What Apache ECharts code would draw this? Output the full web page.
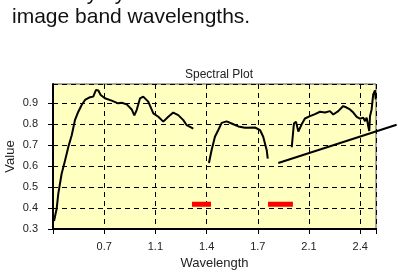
<!DOCTYPE html>
<html>
<head>
<meta charset="utf-8">
<script src="https://cdn.jsdelivr.net/npm/echarts@6/dist/echarts.min.js"></script>
<style>
  html, body { margin: 0; padding: 0; background: #fff; }
  #chart { width: 398px; height: 279px; }
</style>
</head>
<body>
<div id="chart"></div>
<script>
// spectrum pieces, [wavelength, value]; gaps are the water absorption bands
const seg1 = [
  [0.357, 0.338], [0.375, 0.396], [0.386, 0.467], [0.409, 0.563], [0.432, 0.625],
  [0.455, 0.691], [0.478, 0.746], [0.500, 0.818], [0.523, 0.858], [0.546, 0.890],
  [0.569, 0.914], [0.603, 0.927], [0.625, 0.930], [0.644, 0.962], [0.660, 0.959],
  [0.676, 0.938], [0.705, 0.922], [0.751, 0.911], [0.796, 0.898], [0.820, 0.901],
  [0.854, 0.893], [0.888, 0.869], [0.906, 0.841], [0.922, 0.866], [0.945, 0.922],
  [0.967, 0.930], [1.001, 0.906], [1.036, 0.850], [1.070, 0.834], [1.104, 0.811],
  [1.138, 0.834], [1.172, 0.854], [1.206, 0.842], [1.241, 0.818], [1.264, 0.794],
  [1.309, 0.778]
]
const seg2 = [
  [1.416, 0.614], [1.435, 0.678], [1.457, 0.739], [1.480, 0.771], [1.503, 0.805],
  [1.537, 0.812], [1.571, 0.802], [1.617, 0.788], [1.662, 0.782], [1.731, 0.783],
  [1.765, 0.771], [1.787, 0.739], [1.811, 0.675], [1.818, 0.635]
]
const seg3 = [
  [1.982, 0.689], [1.997, 0.802], [2.011, 0.811], [2.027, 0.764], [2.050, 0.798],
  [2.072, 0.826], [2.107, 0.837], [2.141, 0.847], [2.175, 0.858], [2.209, 0.854],
  [2.243, 0.861], [2.266, 0.845], [2.300, 0.861], [2.334, 0.885], [2.357, 0.878],
  [2.380, 0.869], [2.403, 0.854], [2.426, 0.834], [2.448, 0.825], [2.471, 0.830],
  [2.483, 0.813], [2.494, 0.830], [2.505, 0.789], [2.512, 0.766], [2.517, 0.837],
  [2.528, 0.869], [2.539, 0.941], [2.551, 0.960], [2.556, 0.917]
]
// red band markers
const band1 = [[1.300, 0.418], [1.430, 0.418]]
const band2 = [[1.820, 0.418], [1.990, 0.418]]
// pointer line running off the right side of the plot
const pointer = [[1.890, 0.614], [2.699, 0.796]]

const xLabels = ['0.7', '1.1', '1.4', '1.7', '2.1', '2.4']
const xStep = 0.35

let chart = echarts.init(document.getElementById('chart'))

const black = (data) => ({
  type: 'line',
  data: data,
  symbol: 'none',
  lineStyle: { color: '#000', width: 2 },
  silent: true,
  z: 3,
})

let option = {
  animation: false,
  textStyle: { fontFamily: 'Liberation Sans, Arial, sans-serif' },
  title: {
    text: 'Spectral Plot',
    left: 214, top: 64, textAlign: 'center',
    textStyle: { fontSize: 12, fontWeight: 'normal', color: '#222' },
  },
  grid: {
    left: 53, top: 84, right: 22, bottom: 50,
    outerBoundsMode: 'none',
    show: true,
    backgroundColor: '#FFFFC0',
    borderColor: '#555',
    borderWidth: 1,
  },
  xAxis: {
    type: 'value',
    min: 0.35, max: 2.558, interval: xStep,
    name: 'Wavelength', nameLocation: 'middle', nameGap: 28, nameMoveOverlap: false,
    nameTextStyle: { fontSize: 13, color: '#222' },
    axisLine: { lineStyle: { color: '#000', width: 2 } },
    axisTick: { show: true, length: 5, lineStyle: { color: '#000' } },
    axisLabel: {
      fontSize: 11, color: '#222', margin: 12,
      formatter: v => {
        let k = v / xStep
        if (Math.abs(k - Math.round(k)) > 0.01) return ''
        return xLabels[Math.round(k) - 2] || ''
      },
    },
    splitLine: { show: true, lineStyle: { color: '#000', type: [5, 4], width: 1 } },
  },
  yAxis: {
    type: 'value',
    min: 0.3, max: 0.99, interval: 0.1,
    name: 'Value', nameLocation: 'middle', nameGap: 36, nameMoveOverlap: false,
    nameTextStyle: { fontSize: 13, color: '#222' },
    axisLine: { show: true, lineStyle: { color: '#000', width: 2 } },
    axisTick: { show: true, length: 5, lineStyle: { color: '#000' } },
    axisLabel: {
      fontSize: 11, color: '#222', margin: 15, showMaxLabel: false,
      formatter: v => v.toFixed(1),
    },
    splitLine: { show: true, lineStyle: { color: '#000', type: [5, 4], width: 1 } },
  },
  series: [
    black(seg1),
    black(seg2),
    black(seg3),
    {
      type: 'line', data: band1, symbol: 'none', silent: true,
      lineStyle: { color: '#FF0000', width: 5, cap: 'butt' },
    },
    {
      type: 'line', data: band2, symbol: 'none', silent: true,
      lineStyle: { color: '#FF0000', width: 5, cap: 'butt' },
    },
  ],
}
chart.setOption(option)

// the pointer leaves the grid, so place it as a graphic through the axis scales
let p0 = chart.convertToPixel({ gridIndex: 0 }, pointer[0])
let p1 = chart.convertToPixel({ gridIndex: 0 }, pointer[1])
chart.setOption({
  graphic: [
    {
      type: 'text', left: 12, top: -16,
      style: { text: 'then only by the', fontSize: 21, fill: '#111', fontFamily: 'Liberation Sans' },
    },
    {
      type: 'text', left: 12, top: 7,
      style: { text: 'image band wavelengths.', fontSize: 21, fill: '#111', fontFamily: 'Liberation Sans' },
    },
    {
      type: 'line', z: 10, silent: true,
      shape: { x1: p0[0], y1: p0[1], x2: p1[0], y2: p1[1] },
      style: { stroke: '#000', lineWidth: 2 },
    },
  ],
})
</script>
</body>
</html>
